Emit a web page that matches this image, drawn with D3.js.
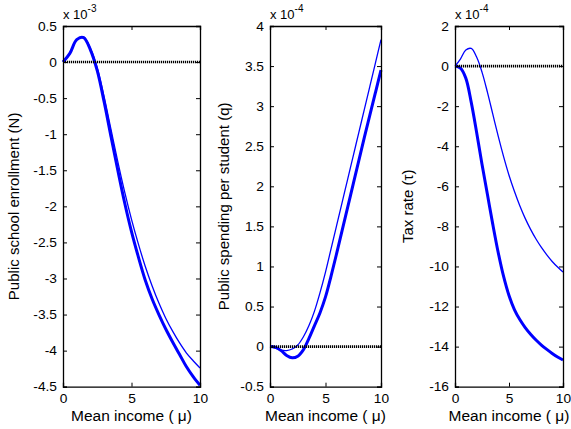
<!DOCTYPE html>
<html><head><meta charset="utf-8">
<script src="https://cdn.jsdelivr.net/npm/d3@7"></script>
<style>
html,body{margin:0;padding:0;background:#fff;}
svg{display:block;font-family:"Liberation Sans",Arial,sans-serif;}
</style></head>
<body>
<svg id="chart" width="571" height="429"></svg>
<script>
// ---------- data ----------
const muValues = [0,0.5,1,1.5,2,2.5,3,3.5,4,4.5,5,5.5,6,6.5,7,7.5,8,8.5,9,9.5,10];

// Public school enrollment (N), x 1e-3
const enrollThick = [0,0.12,0.31,0.34,0.17,-0.12,-0.55,-1.03,-1.5,-1.95,-2.35,-2.7,-3.02,-3.28,-3.5,-3.7,-3.88,-4.05,-4.22,-4.36,-4.48];
const enrollThin  = [0,0.12,0.31,0.35,0.19,-0.08,-0.48,-0.93,-1.38,-1.8,-2.18,-2.52,-2.83,-3.1,-3.34,-3.55,-3.73,-3.89,-4.03,-4.14,-4.24];

// Public spending per student (q), x 1e-4
const spendThick = [0,-0.01,-0.05,-0.11,-0.14,-0.12,-0.04,0.1,0.26,0.42,0.62,0.88,1.16,1.45,1.74,2.03,2.32,2.61,2.89,3.17,3.45];
const spendThin  = [0,-0.02,-0.045,-0.05,-0.03,0.02,0.12,0.26,0.44,0.67,0.93,1.22,1.51,1.8,2.09,2.38,2.67,2.96,3.25,3.54,3.83];

// Tax rate (tau), x 1e-4
const taxThick = [0,-0.1,-0.6,-1.8,-3.3,-4.9,-6.4,-7.9,-9.3,-10.5,-11.45,-12.15,-12.65,-13.05,-13.38,-13.67,-13.92,-14.14,-14.34,-14.52,-14.67];
const taxThin  = [0,0.35,0.8,0.88,0.45,-0.3,-1.3,-2.4,-3.5,-4.52,-5.45,-6.25,-6.97,-7.6,-8.15,-8.63,-9.05,-9.42,-9.75,-10.03,-10.28];

const xTicks = [0,5,10];
const enrollTicks = [0.5,0,-0.5,-1,-1.5,-2,-2.5,-3,-3.5,-4,-4.5];
const spendTicks = [4,3.5,3,2.5,2,1.5,1,0.5,0,-0.5];
const taxTicks = [2,0,-2,-4,-6,-8,-10,-12,-14,-16];

const yLabels = ["Public school enrollment (N)","Public spending per student (q)","Tax rate (\u03c4)"];
const exponents = ["x 10","x 10","x 10"];
const expSup = ["-3","-4","-4"];
const xLabel = "Mean income ( \u03bc)";

// ---------- layout ----------
const svg = d3.select("#chart");
const plotTop = 26, plotBottom = 386.7;
const panels = [
  {x0:63, x1:200, dom:[-4.5,0.5], ticks:enrollTicks, thick:enrollThick, thin:enrollThin, yl:yLabels[0], ylx:19, ex:exponents[0], sup:expSup[0]},
  {x0:270, x1:381, dom:[-0.5,4], ticks:spendTicks, thick:spendThick, thin:spendThin, yl:yLabels[1], ylx:229, ex:exponents[1], sup:expSup[1]},
  {x0:455, x1:563, dom:[-16,2], ticks:taxTicks, thick:taxThick, thin:taxThin, yl:yLabels[2], ylx:413, ex:exponents[2], sup:expSup[2]}
];

function stretch(sel){
  sel.each(function(){
    const t = d3.select(this);
    const x = +t.attr("x") || 0;
    t.attr("transform", `translate(${x},0) scale(1.1,1) translate(${-x},0)`);
  });
}

panels.forEach(p => {
  const xs = d3.scaleLinear().domain([0,10]).range([p.x0,p.x1]);
  const ys = d3.scaleLinear().domain(p.dom).range([plotBottom, plotTop]);
  const g = svg.append("g");

  const line = (vals) => d3.line().x((d,i)=>xs(muValues[i])).y(d=>ys(d)).curve(d3.curveCatmullRom.alpha(0.5))(vals);
  g.append("path").attr("d", line(p.thin)).attr("fill","none").attr("stroke","#0000ff").attr("stroke-width",1.3);
  g.append("path").attr("d", line(p.thick)).attr("fill","none").attr("stroke","#0000ff").attr("stroke-width",3);

  g.append("line").attr("x1",xs(0)).attr("x2",xs(10)).attr("y1",ys(0)).attr("y2",ys(0))
    .attr("stroke","#000").attr("stroke-width",2.6).attr("stroke-dasharray","1.2,0.8");

  const axL = g.append("g").attr("transform",`translate(${p.x0},0)`)
    .call(d3.axisLeft(ys).tickValues(p.ticks).tickSize(-4).tickPadding(6).tickFormat(d=>String(d)));
  const axR = g.append("g").attr("transform",`translate(${p.x1},0)`)
    .call(d3.axisRight(ys).tickValues(p.ticks).tickSize(-4).tickFormat(""));
  const axB = g.append("g").attr("transform",`translate(0,${plotBottom})`)
    .call(d3.axisBottom(xs).tickValues(xTicks).tickSize(-4).tickPadding(7).tickFormat(d=>String(d)));
  const axT = g.append("g").attr("transform",`translate(0,${plotTop})`)
    .call(d3.axisTop(xs).tickValues(xTicks).tickSize(-4).tickFormat(""));
  [axL,axR,axB,axT].forEach(a=>{
    a.select(".domain").attr("stroke","#000").attr("stroke-width",1.3);
    a.selectAll(".tick line").attr("stroke","#000").attr("stroke-width",1);
    a.selectAll("text").attr("font-size",12.5).attr("fill","#000").attr("font-family","Liberation Sans, Arial, sans-serif");
  });
  axL.selectAll(".tick text").call(stretch);
  axB.selectAll(".tick text").call(stretch);

  const cx = (p.x0+p.x1)/2;
  g.append("text").attr("x",cx).attr("y",421).attr("text-anchor","middle")
    .attr("font-size",14.5).attr("transform",`translate(${cx},0) scale(1.07,1) translate(${-cx},0)`).text(xLabel);
  g.append("text").attr("transform",`translate(${p.ylx},${(plotTop+plotBottom)/2}) rotate(-90)`)
    .attr("text-anchor","middle").attr("font-size",15).text(p.yl);
  const ex = g.append("text").attr("x",p.x0).attr("y",18.5).attr("font-size",13);
  ex.append("tspan").text(p.ex);
  ex.append("tspan").attr("dy",-7).attr("font-size",10).text(p.sup);
});
</script>
</body></html>
